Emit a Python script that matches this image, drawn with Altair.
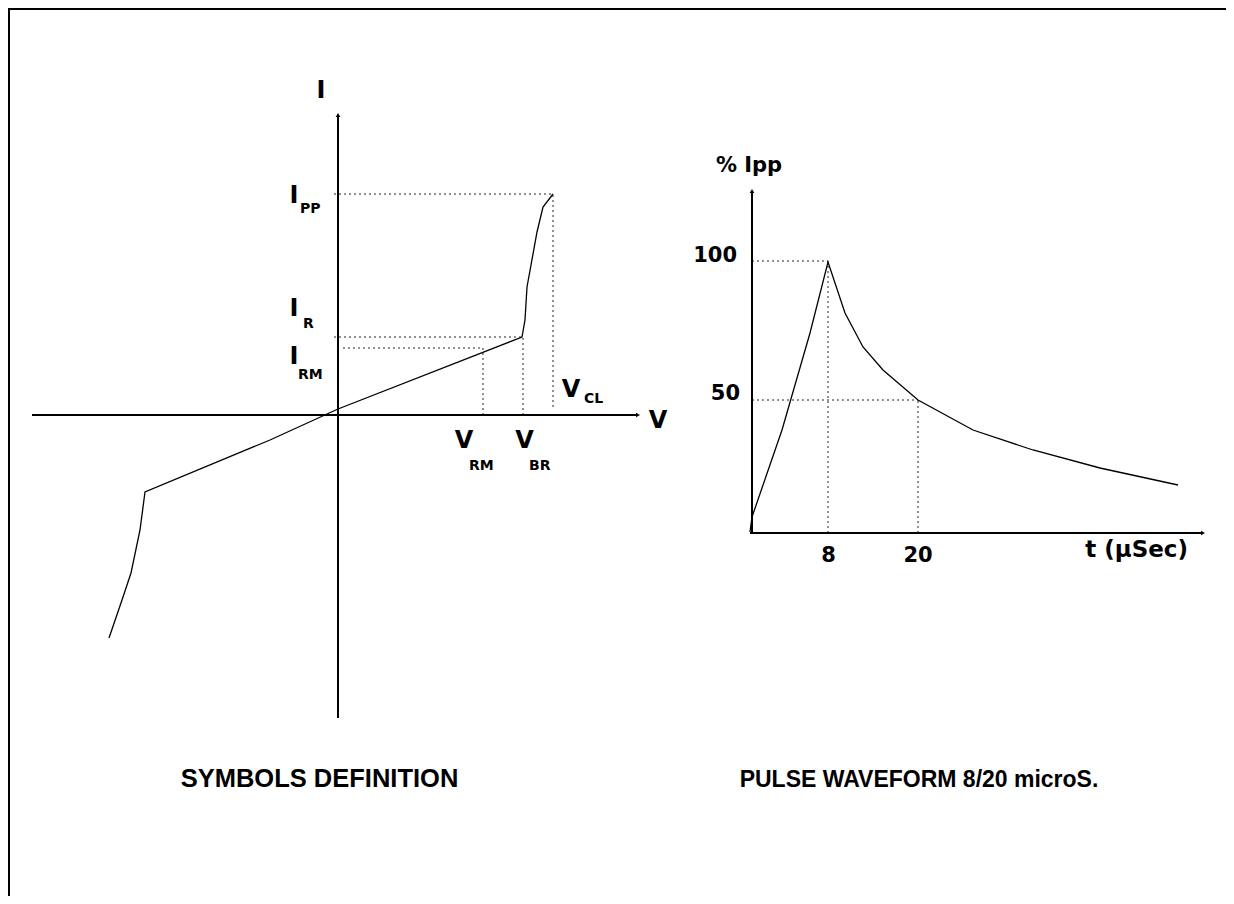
import altair as alt
import pandas as pd

W, H = 1218, 888

# ---- coordinate systems (diagram units) ----
LX_DOM = [-33.0, 88.8]   # left panel: V
LY_DOM = [-48.1, 40.7]   # left panel: I
RX_DOM = [-74.4, 47.4]   # right panel: t
RY_DOM = [-36.3, 52.5]   # right panel: % Ipp

# ---- left panel data: I/V characteristic ----
iv_v = [-22.9, -21.6, -20.7, -19.8, -19.3, -6.8, 0.0, 18.4, 18.7, 18.9, 19.9, 20.5, 21.5]
iv_i = [-22.3, -18.5, -15.8, -11.5, -7.7, -2.5, 0.6, 7.8, 9.5, 12.8, 18.3, 20.8, 22.1]

left_axes_x1 = [-30.6, 0.0]
left_axes_y1 = [0.0, -30.3]
left_axes_x2 = [30.0, 0.0]
left_axes_y2 = [0.0, 30.0]

left_guides_x1 = [-0.4, -0.4, 0.5, 14.5, 18.5, 21.5]
left_guides_y1 = [22.1, 7.8, 6.7, 0.0, 0.0, 0.8]
left_guides_x2 = [21.5, 18.5, 14.5, 14.5, 18.5, 21.5]
left_guides_y2 = [22.1, 7.8, 6.7, 6.7, 7.8, 22.1]

left_main_text = ["I", "V", "I", "I", "I", "V", "V", "V"]
left_main_x = [-1.7, 32.0, -4.4, -4.4, -4.4, 12.6, 18.65, 23.3]
left_main_y = [31.7, -1.3, 21.2, 9.9, 5.1, -3.3, -3.3, 1.8]

left_sub_text = ["PP", "R", "RM", "RM", "BR", "CL"]
left_sub_x = [-3.8, -3.5, -4.0, 13.1, 19.1, 24.6]
left_sub_y = [20.2, 8.7, 3.6, -5.5, -5.5, 1.2]

left_title = ["SYMBOLS DEFINITION"]
left_title_x = [-1.85]
left_title_y = [-37.2]

# ---- right panel data: 8/20 pulse ----
pulse_t = [-0.2, 0.0, 3.0, 5.8, 7.6, 9.3, 11.1, 13.1, 16.6, 22.1, 28.1, 34.8, 42.6]
pulse_p = [0.1, 1.6, 10.3, 20.0, 27.1, 22.0, 18.6, 16.3, 13.3, 10.3, 8.3, 6.5, 4.8]

right_axes_x1 = [-0.2, 0.0]
right_axes_y1 = [0.0, 0.0]
right_axes_x2 = [45.1, 0.0]
right_axes_y2 = [0.0, 34.2]

right_guides_x1 = [0.0, 7.6, 0.0, 16.6]
right_guides_y1 = [27.2, 0.0, 13.3, 0.0]
right_guides_x2 = [7.6, 7.6, 16.6, 16.6]
right_guides_y2 = [27.2, 27.2, 13.3, 13.3]

right_center_text = ["% Ipp", "8", "20"]
right_center_x = [-0.3, 7.65, 16.6]
right_center_y = [36.1, -2.9, -2.9]

right_tick_text = ["100", "50"]
right_tick_x = [-1.5, -1.2]
right_tick_y = [27.1, 13.3]

right_unit_text = ["t (µSec)"]
right_unit_x = [43.6]
right_unit_y = [-2.4]

right_title = ["PULSE WAVEFORM 8/20 microS."]
right_title_x = [16.7]
right_title_y = [-25.4]


def enc_xy(xdom, ydom, xf="x", yf="y"):
    return dict(
        x=alt.X(f"{xf}:Q", scale=alt.Scale(domain=xdom, zero=False, nice=False), axis=None),
        y=alt.Y(f"{yf}:Q", scale=alt.Scale(domain=ydom, zero=False, nice=False), axis=None),
    )


def segments(x1, y1, x2, y2, xdom, ydom, width, dash=None, color="black"):
    df = pd.DataFrame({"x": x1, "y": y1, "x2": x2, "y2": y2})
    kw = dict(color=color, strokeWidth=width)
    if dash:
        kw["strokeDash"] = dash
    e = enc_xy(xdom, ydom)
    return alt.Chart(df).mark_rule(**kw).encode(x=e["x"], y=e["y"], x2="x2:Q", y2="y2:Q")


def curve(xs, ys, xdom, ydom):
    df = pd.DataFrame({"x": xs, "y": ys, "o": list(range(len(xs)))})
    e = enc_xy(xdom, ydom)
    return alt.Chart(df).mark_line(color="black", strokeWidth=1.3).encode(
        x=e["x"], y=e["y"], order="o:Q")


def texts(txt, xs, ys, xdom, ydom, size, align, font="DejaVu Sans", weight="bold"):
    df = pd.DataFrame({"x": xs, "y": ys, "t": txt})
    e = enc_xy(xdom, ydom)
    return alt.Chart(df).mark_text(
        font=font, fontSize=size, fontWeight=weight, align=align,
        baseline="alphabetic", color="black").encode(x=e["x"], y=e["y"], text="t:N")


def arrows(xs, ys, shapes, xdom, ydom):
    df = pd.DataFrame({"x": xs, "y": ys, "s": shapes})
    e = enc_xy(xdom, ydom)
    return alt.Chart(df).mark_point(filled=True, color="black", size=22, opacity=1).encode(
        x=e["x"], y=e["y"], shape=alt.Shape("s:N", scale=None, legend=None))


frame_left = alt.Chart(pd.DataFrame({"a": [0]})).mark_rule(color="black", strokeWidth=2).encode(
    x=alt.value(1), y=alt.value(0), y2=alt.value(H))
frame_top = alt.Chart(pd.DataFrame({"a": [0]})).mark_rule(color="black", strokeWidth=2).encode(
    x=alt.value(0), x2=alt.value(W), y=alt.value(1))

layers = [
    frame_left, frame_top,
    # left panel
    segments(left_guides_x1, left_guides_y1, left_guides_x2, left_guides_y2, LX_DOM, LY_DOM, 1, [2, 3], "#222222"),
    segments(left_axes_x1, left_axes_y1, left_axes_x2, left_axes_y2, LX_DOM, LY_DOM, 2),
    arrows([30.0, 0.0], [0.0, 30.0], ["triangle-right", "triangle-up"], LX_DOM, LY_DOM),
    curve(iv_v, iv_i, LX_DOM, LY_DOM),
    texts(left_main_text, left_main_x, left_main_y, LX_DOM, LY_DOM, 24, "center"),
    texts(left_sub_text, left_sub_x, left_sub_y, LX_DOM, LY_DOM, 14, "left"),
    texts(left_title, left_title_x, left_title_y, LX_DOM, LY_DOM, 25.5, "center", font="Liberation Sans"),
    # right panel
    segments(right_guides_x1, right_guides_y1, right_guides_x2, right_guides_y2, RX_DOM, RY_DOM, 1, [2, 3], "#222222"),
    segments(right_axes_x1, right_axes_y1, right_axes_x2, right_axes_y2, RX_DOM, RY_DOM, 2),
    arrows([45.1, 0.0], [0.0, 34.2], ["triangle-right", "triangle-up"], RX_DOM, RY_DOM),
    curve(pulse_t, pulse_p, RX_DOM, RY_DOM),
    texts(right_center_text, right_center_x, right_center_y, RX_DOM, RY_DOM, 21, "center"),
    texts(right_tick_text, right_tick_x, right_tick_y, RX_DOM, RY_DOM, 21, "right"),
    texts(right_unit_text, right_unit_x, right_unit_y, RX_DOM, RY_DOM, 23, "right"),
    texts(right_title, right_title_x, right_title_y, RX_DOM, RY_DOM, 23, "center", font="Liberation Sans"),
]

chart = alt.layer(*layers).resolve_scale(x="independent", y="independent").properties(
    width=W, height=H, padding=0, autosize=alt.AutoSizeParams(type="none"),
    background="white",
).configure_view(stroke=None)

chart.save("out.html", embed_options={"renderer": "svg", "actions": False})
